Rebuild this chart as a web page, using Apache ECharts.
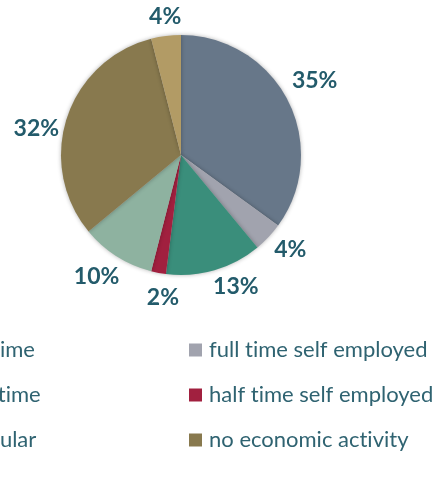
<!DOCTYPE html>
<html><head><meta charset="utf-8">
<script src="https://cdn.jsdelivr.net/npm/echarts@6/dist/echarts.min.js"></script>
<style>html,body{margin:0;padding:0;background:#fff}#c{width:445px;height:495px}</style>
</head><body><div id="c"></div>
<script>
const categories = ['full time','full time self employed','half time','half time self employed','irregular','no economic activity','other'];
const values = [35, 4, 13, 2, 10, 32, 4];
const colors = ['#677789','#a1a3ae','#3a8e7b','#a1203f','#8eb2a0','#88794e','#b29b65'];
const legendLeft = ['full time','half time','irregular'];
const legendRight = ['full time self employed','half time self employed','no economic activity'];

const chart = echarts.init(document.getElementById('c'));
const center = [181, 155];
const legendText = {color:'#2f6371', fontFamily:'Lato', fontSize:22, lineHeight:24, padding:[0,0,0,2]};
const noLig = n => n.replace(/ti/g, 't\u200ci');
// small label nudges to mimic the original best-fit label placement
const nudge = {0:[0,-6],1:[0,-8],2:[13,-12],3:[10,-5],4:[-4,-5],5:[-2,20],6:[3,10]};
chart.setOption({
  animation:false,
  color: colors,
  legend:[
    {data:legendLeft, orient:'vertical', left:-69, top:333, itemWidth:13, itemHeight:13, itemGap:21, icon:'rect', textStyle:legendText, formatter:noLig},
    {data:legendRight, orient:'vertical', left:184, top:333, itemWidth:13, itemHeight:13, itemGap:21, icon:'rect', textStyle:legendText, formatter:noLig}
  ],
  series:[
    {type:'pie', center:center, radius:[0,120], startAngle:90, clockwise:true,
     label:{show:false}, labelLine:{show:false},
     itemStyle:{shadowBlur:4, shadowColor:'rgba(0,0,0,0.3)'},
     emphasis:{disabled:true},
     data: categories.map((n,i)=>({name:n, value:values[i], itemStyle:{color:colors[i]}}))},
    {type:'pie', center:center, radius:[120,174], startAngle:90, clockwise:true, silent:true,
     itemStyle:{color:'rgba(0,0,0,0)'},
     label:{show:true, position:'inside', formatter:'{d}%', color:'#235b6b', fontFamily:'Lato', fontWeight:'bold', fontSize:23},
     labelLine:{show:false}, emphasis:{disabled:true},
     labelLayout: p => { const d = nudge[p.dataIndex] || [0,0]; return {dx:d[0], dy:d[1]}; },
     data: categories.map((n,i)=>({name:n, value:values[i]}))}
  ]
});
</script></body></html>
